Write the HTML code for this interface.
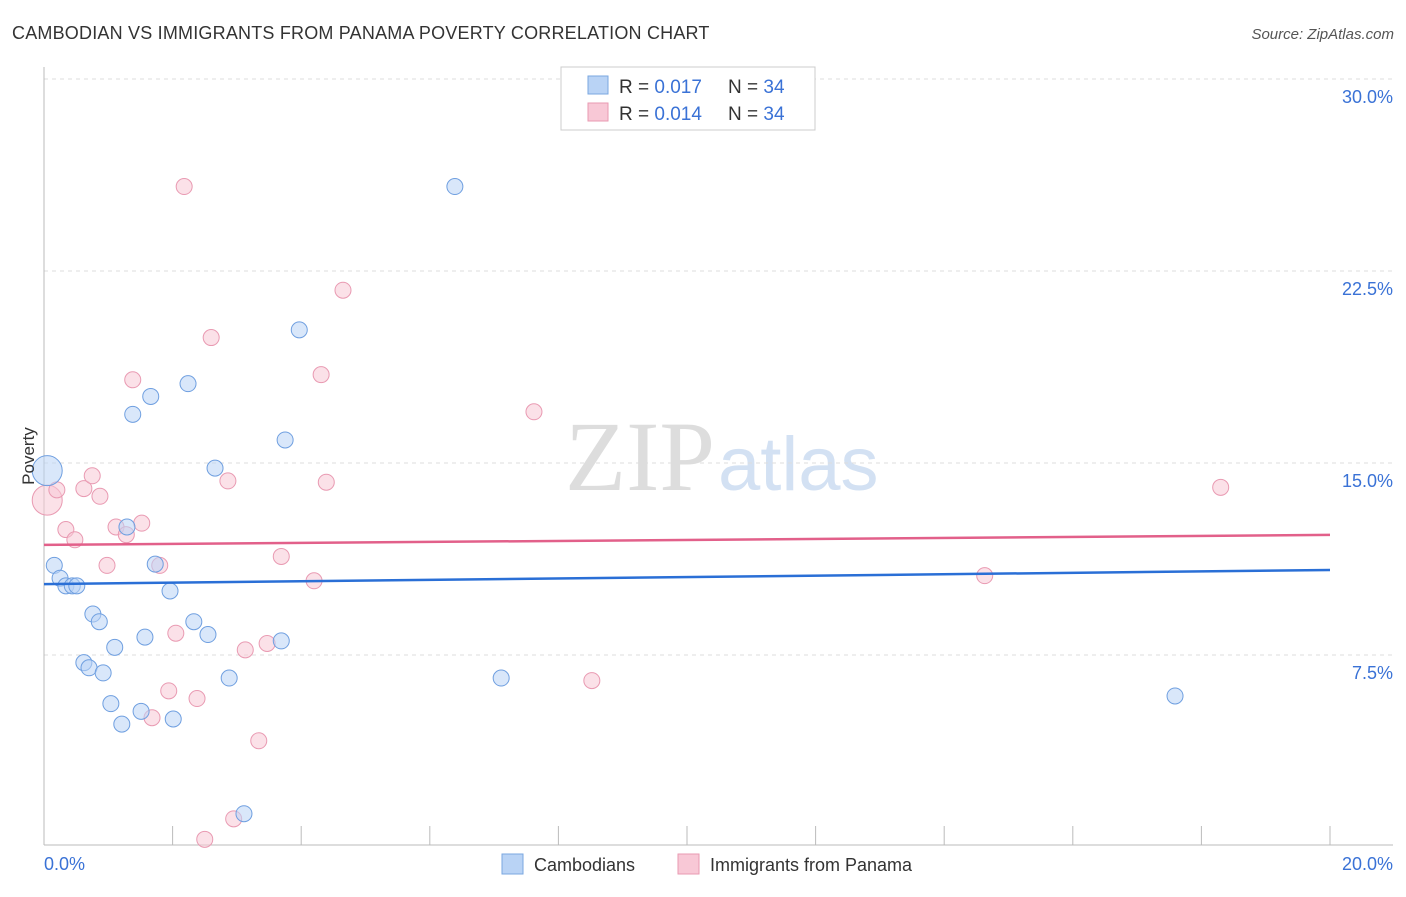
<!DOCTYPE html>
<html><head><meta charset="utf-8">
<style>
body{margin:0;background:#fff;font-family:"Liberation Sans",sans-serif;}
svg text{font-family:"Liberation Sans",sans-serif;}
</style></head>
<body>
<svg id="chart" width="1406" height="892" xmlns="http://www.w3.org/2000/svg">
<text x="12" y="39" font-size="18" fill="#333" letter-spacing="0.2">CAMBODIAN VS IMMIGRANTS FROM PANAMA POVERTY CORRELATION CHART</text>
<text x="1394" y="39" font-size="15" fill="#555" text-anchor="end" font-style="italic">Source: ZipAtlas.com</text>
<text x="715" y="490" font-size="100" fill="#ddd" text-anchor="end" style="font-family:'Liberation Serif',serif">ZIP</text>
<text x="718" y="490" font-size="76" fill="#d3e1f3">atlas</text>
<g id="grid"></g><g id="axes"></g><g id="marks"></g>
<text x="34" y="456" font-size="17" fill="#333" transform="rotate(-90 34 456)" text-anchor="middle">Poverty</text>
<g>
<rect x="561" y="67" width="254" height="63" fill="#fff" stroke="#ccc"/>
<rect x="588" y="76" width="20" height="18" fill="#b9d3f5" stroke="#7aa7e0"/>
<text x="619" y="93" font-size="19" fill="#333">R = <tspan fill="#3a72d6">0.017</tspan></text>
<text x="728" y="93" font-size="19" fill="#333">N = <tspan fill="#3a72d6">34</tspan></text>
<rect x="588" y="103" width="20" height="18" fill="#f8c8d6" stroke="#e99ab2"/>
<text x="619" y="120" font-size="19" fill="#333">R = <tspan fill="#3a72d6">0.014</tspan></text>
<text x="728" y="120" font-size="19" fill="#333">N = <tspan fill="#3a72d6">34</tspan></text>
</g>
<g>
<rect x="502" y="854" width="21" height="20" fill="#b9d3f5" stroke="#7aa7e0"/>
<text x="534" y="871" font-size="18" fill="#333">Cambodians</text>
<rect x="678" y="854" width="21" height="20" fill="#f8c8d6" stroke="#e99ab2"/>
<text x="710" y="871" font-size="18" fill="#333">Immigrants from Panama</text>
</g>
</svg>
<script>
const yTicks=[7.5,15,22.5,30];
const yTickLabels=["7.5%","15.0%","22.5%","30.0%"];
const xTickCount=[0,2,4,6,8,10,12,14,16,18,20];
const blueX=[0.05,0.16,0.25,0.34,0.44,0.51,0.76,0.86,0.62,0.70,0.92,1.04,1.10,1.21,1.38,1.66,1.29,1.73,1.96,1.57,1.51,2.01,2.24,2.33,2.55,2.66,2.88,3.11,3.75,3.69,3.97,6.39,7.11,17.59];
const blueY=[14.7,11.0,10.5,10.2,10.2,10.2,9.1,8.8,7.2,7.0,6.8,5.6,7.8,4.8,16.9,17.6,12.5,11.05,10.0,8.2,5.3,5.0,18.1,8.8,8.3,14.8,6.6,1.3,15.9,8.05,20.2,25.8,6.6,5.9];
const pinkX=[0.05,0.2,0.34,0.48,0.62,0.75,0.87,0.98,1.12,1.28,1.38,1.52,1.80,1.94,2.05,2.18,2.38,2.50,2.60,2.86,2.95,3.13,3.34,3.47,3.69,4.2,4.31,4.39,4.65,7.62,8.52,14.63,18.3,1.68];
const pinkY=[13.55,13.95,12.4,12.0,14.0,14.5,13.7,11.0,12.5,12.2,18.25,12.65,11.0,6.1,8.35,25.8,5.8,0.3,19.9,14.3,1.1,7.7,4.15,7.95,11.35,10.4,18.45,14.25,21.75,17.0,6.5,10.6,14.05,5.05];
const blueTrend=[10.27,10.82];
const pinkTrend=[11.8,12.19];
const xs=v=>44+v*64.3, ys=v=>847-v*25.6;
const NS="http://www.w3.org/2000/svg";
function mk(tag,attrs,parent){const e=document.createElementNS(NS,tag);for(const k in attrs)e.setAttribute(k,attrs[k]);document.getElementById(parent).appendChild(e);return e;}
yTicks.forEach((t,i)=>{
 const l=mk('line',{x1:44,x2:1393,y1:ys(t),y2:ys(t),stroke:'#ddd','stroke-dasharray':'4,4'},'grid');
 
 
 const tx=mk('text',{x:1393,y:ys(t)+24,'font-size':18,fill:'#3a72d6','text-anchor':'end'},'grid');
 tx.textContent=yTickLabels[i];
 
 
});
let a=mk('line',{x1:44,x2:44,y1:67,y2:845,stroke:'#bbb'},'axes');


a=mk('line',{x1:44,x2:1393,y1:845,y2:845,stroke:'#bbb'},'axes');


xTickCount.forEach(t=>{
 const l=mk('line',{x1:xs(t),x2:xs(t),y1:826,y2:845,stroke:'#bbb'},'axes');
 
 
});
let t0=mk('text',{x:44,y:870,'font-size':18,fill:'#3a72d6'},'axes');t0.textContent='0.0%';


t0=mk('text',{x:1393,y:870,'font-size':18,fill:'#3a72d6','text-anchor':'end'},'axes');t0.textContent='20.0%';


function pts(X,Y,fill,stroke,name){X.forEach((x,i)=>{
 const c=mk('circle',{cx:xs(x),cy:ys(Y[i]),r:i===0?15:8,fill:fill,'fill-opacity':0.55,stroke:stroke,'stroke-width':1},'marks');
 
 
});}
pts(pinkX,pinkY,'#f8c8d6','#e99ab2','panama-point');
pts(blueX,blueY,'#b9d3f5','#6f9fe0','cambodian-point');
let tl=mk('line',{x1:xs(0),x2:xs(20),y1:ys(blueTrend[0]),y2:ys(blueTrend[1]),stroke:'#2a6fd6','stroke-width':2.5},'marks');


tl=mk('line',{x1:xs(0),x2:xs(20),y1:ys(pinkTrend[0]),y2:ys(pinkTrend[1]),stroke:'#e2608a','stroke-width':2.5},'marks');


</script>
</body></html>
